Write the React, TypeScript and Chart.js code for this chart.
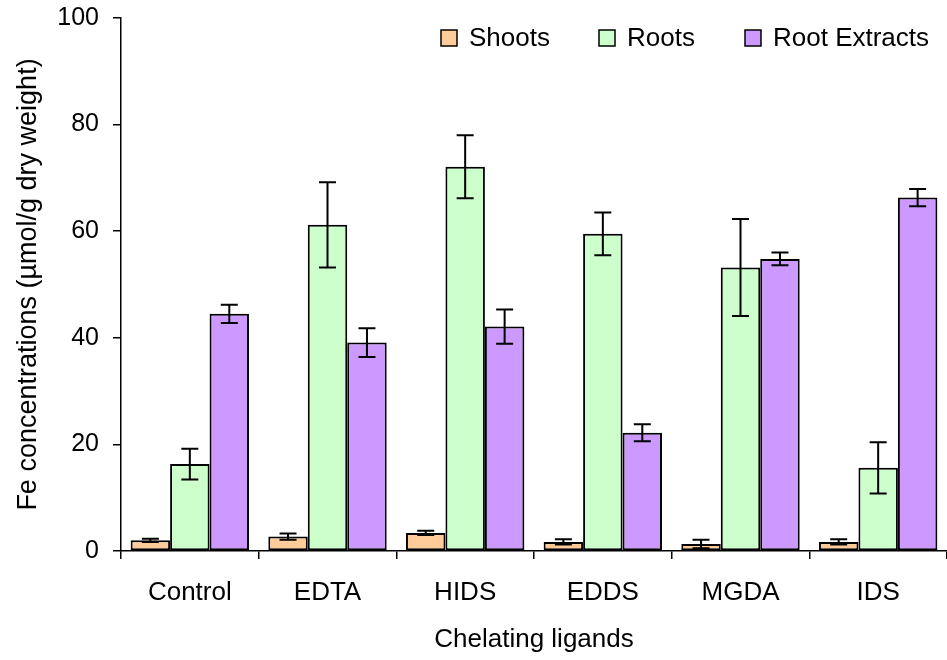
import React, { useEffect, useRef } from 'react';
import { Chart, registerables } from 'chart.js';
Chart.register(...registerables);

const categories = ['Control', 'EDTA', 'HIDS', 'EDDS', 'MGDA', 'IDS'];
const shoots = [2.0, 2.7, 3.4, 1.7, 1.3, 1.7];
const shootsErr = [0.3, 0.6, 0.4, 0.5, 0.8, 0.5];
const roots = [16.3, 61.2, 72.1, 59.5, 53.2, 15.6];
const rootsErr = [2.9, 8.0, 5.9, 4.0, 9.1, 4.8];
const rootExtracts = [44.5, 39.1, 42.1, 22.2, 54.8, 66.3];
const rootExtractsErr = [1.7, 2.7, 3.2, 1.6, 1.2, 1.6];
const seriesNames = ['Shoots', 'Roots', 'Root Extracts'];
const seriesColors = ['#FFCC99', '#CCFFCC', '#CC99FF'];
const yMin = 0;
const yMax = 100;
const yStep = 20;

const FONT = "'Liberation Sans', Arial, sans-serif";

const errorBarPlugin = {
  id: 'errorBars',
  afterDatasetsDraw(chart: any) {
    const ctx = chart.ctx;
    const yScale = chart.scales.y;
    chart.data.datasets.forEach((ds: any, di: number) => {
      const meta = chart.getDatasetMeta(di);
      meta.data.forEach((bar: any, i: number) => {
        const v = ds.data[i];
        const e = ds.errors[i];
        const yTop = yScale.getPixelForValue(v + e);
        const yBot = yScale.getPixelForValue(v - e);
        const x = bar.x;
        const hw = 8.5;
        ctx.save();
        ctx.strokeStyle = '#000';
        ctx.lineWidth = 2;
        ctx.beginPath();
        ctx.moveTo(x, yTop);
        ctx.lineTo(x, yBot);
        ctx.moveTo(x - hw, yTop);
        ctx.lineTo(x + hw, yTop);
        ctx.moveTo(x - hw, yBot);
        ctx.lineTo(x + hw, yBot);
        ctx.stroke();
        ctx.restore();
      });
    });
  },
};

const legendPlugin = {
  id: 'customLegend',
  afterDraw(chart: any) {
    const ctx = chart.ctx;
    const area = chart.chartArea;
    const offsets = [320, 478, 624];
    const cy = 38;
    ctx.save();
    ctx.font = `26px ${FONT}`;
    ctx.textBaseline = 'middle';
    ctx.textAlign = 'left';
    chart.data.datasets.forEach((ds: any, i: number) => {
      const x = area.left + offsets[i];
      ctx.fillStyle = ds.backgroundColor;
      ctx.fillRect(x, cy - 8, 16, 16);
      ctx.strokeStyle = '#000';
      ctx.lineWidth = 1.5;
      ctx.strokeRect(x, cy - 8, 16, 16);
      ctx.fillStyle = '#000';
      ctx.fillText(ds.label, x + 28, cy + 1);
    });
    ctx.restore();
  },
};

export default function App() {
  const ref = useRef<HTMLCanvasElement>(null);
  useEffect(() => {
    if (!ref.current) return;
    const values = [shoots, roots, rootExtracts];
    const errs = [shootsErr, rootsErr, rootExtractsErr];
    const chart = new Chart(ref.current, {
      type: 'bar',
      data: {
        labels: categories,
        datasets: seriesNames.map((name, i) => ({
          label: name,
          data: values[i],
          errors: errs[i],
          backgroundColor: seriesColors[i],
          borderColor: '#000',
          borderWidth: 2,
          borderSkipped: false,
          categoryPercentage: 0.86,
          barPercentage: 1.0,
        })) as any,
      },
      options: {
        responsive: false,
        animation: false,
        layout: { padding: { top: 18, left: 0, right: 0, bottom: 0 } },
        plugins: {
          legend: { display: false },
          tooltip: { enabled: false },
        },
        scales: {
          x: {
            afterFit(scale: any) {
              scale.height = 109;
              scale.paddingLeft = 0;
              scale.paddingRight = 0;
            },
            grid: {
              offset: true,
              drawOnChartArea: false,
              drawTicks: true,
              tickLength: 8,
              color: '#000',
              lineWidth: 1.5,
            },
            border: { display: true, color: '#000', width: 1.5 },
            ticks: {
              color: '#000',
              font: { family: FONT, size: 26 },
              padding: 18,
              maxRotation: 0,
            },
            title: {
              display: true,
              text: 'Chelating ligands',
              color: '#000',
              font: { family: FONT, size: 26 },
              padding: { top: 0, bottom: 5 },
            },
          },
          y: {
            min: yMin,
            max: yMax,
            afterFit(scale: any) {
              scale.width = 121;
              scale.paddingTop = 0;
              scale.paddingBottom = 0;
            },
            grid: {
              drawOnChartArea: false,
              drawTicks: true,
              tickLength: 8,
              color: '#000',
              lineWidth: 1.5,
            },
            border: { display: true, color: '#000', width: 1.5 },
            ticks: {
              stepSize: yStep,
              color: '#000',
              font: { family: FONT, size: 25 },
              padding: 14,
            },
            title: {
              display: true,
              text: 'Fe concentrations (µmol/g dry weight)',
              color: '#000',
              font: { family: FONT, size: 27 },
              padding: { top: 12, bottom: 0 },
            },
          },
        },
      },
      plugins: [errorBarPlugin, legendPlugin],
    });
    return () => chart.destroy();
  }, []);
  return (
    <div style={{ position: 'absolute', left: 0, top: 0, width: 947, height: 660, background: '#fff' }}>
      <canvas ref={ref} width={947} height={660} style={{ display: 'block' }} />
    </div>
  );
}
